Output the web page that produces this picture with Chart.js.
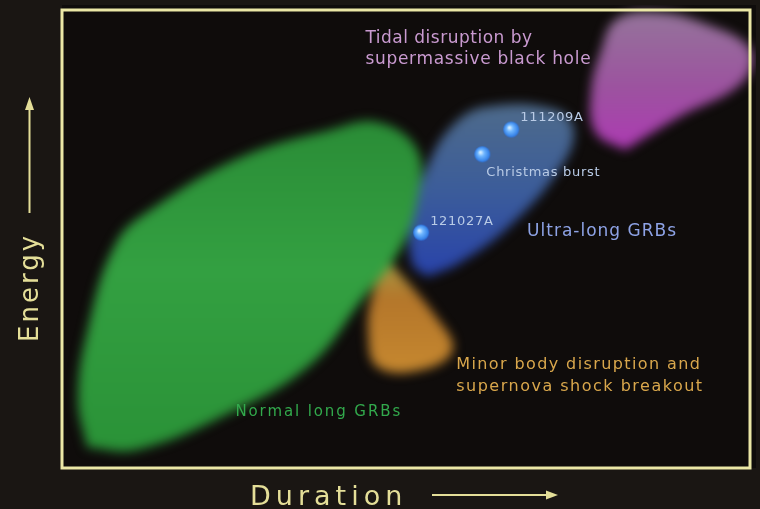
<!DOCTYPE html>
<html><head><meta charset="utf-8">
<script src="https://cdn.jsdelivr.net/npm/chart.js@4"></script>
<style>
html,body{margin:0;padding:0;background:#1a1613;}
#wrap{position:relative;width:760px;height:509px;overflow:hidden;background:#1a1613;}
#clip{position:absolute;left:62px;top:5px;width:694px;height:463px;overflow:hidden;background:#0f0c0b;}
#back{position:absolute;left:-62px;top:-5px;filter:blur(5.5px);}
#front{position:absolute;left:0;top:0;}
</style></head><body>
<div id="wrap">
  <div id="clip"><canvas id="back" width="760" height="509"></canvas></div>
  <canvas id="front" width="760" height="509"></canvas>
</div>
<script>
// ---- Region outlines (Duration, Energy in arbitrary 0-100 units) ----
const normalX = [3.6,2.3,3.6,7.8,13.4,25.9,38.6,45.5,51.2,51.2,48.7,43.2,35.7,23.5,10.7];
const normalY = [4.5,14.7,29.2,48.6,56.4,67.2,73.0,74.7,68.7,57.9,47.1,36.3,22.2,11.4,3.9];
const minorX  = [47.0,53.9,56.3,51.9,45.5,44.1,44.8];
const minorY  = [44.9,32.6,25.5,21.2,21.8,29.2,37.8];
const ultraX  = [52.6,50.4,50.4,52.6,56.1,61.0,71.3,73.8,71.3,64.4,57.3];
const ultraY  = [41.3,44.3,54.2,65.0,73.7,78.0,77.3,72.4,63.7,52.1,44.3];
const tidalX  = [81.1,76.9,76.2,77.7,79.8,85.3,92.4,99.3,98.0,88.9];
const tidalY  = [68.7,72.4,81.0,90.3,96.8,98.5,96.1,90.3,83.2,75.8];
// ---- Individual bursts ----
const burstNames = ["111209A","Christmas burst","121027A"];
const burstX = [65.3,61.1,52.2];
const burstY = [73.9,68.5,51.4];
// ---- Region labels ----
const regionLabels = ["Tidal disruption by","supermassive black hole","Ultra-long GRBs","Minor body disruption and","supernova shock breakout","Normal long GRBs"];
const regionLabelX = [44.1,44.1,67.6,57.3,57.3,25.2];
const regionLabelY = [92.9,88.3,50.7,21.6,16.8,11.4];

function closed(xs, ys){
  const pts = xs.map((x,i)=>({x:x, y:ys[i]}));
  pts.push({x:xs[0], y:ys[0]});
  return pts;
}
function gradFill(ys, stops){
  return (c)=>{
    const chart = c.chart;
    if(!chart.chartArea) return stops[0][1];
    const s = chart.scales.y;
    const t = s.getPixelForValue(Math.max(...ys));
    const b = s.getPixelForValue(Math.min(...ys));
    const g = chart.ctx.createLinearGradient(0,t,0,b);
    stops.forEach(st=>g.addColorStop(st[0],st[1]));
    return g;
  };
}
function region(xs, ys, stops){
  return {type:'line', data:closed(xs,ys), fill:'shape', tension:0.4,
    borderWidth:0, borderColor:'rgba(0,0,0,0)', pointRadius:0,
    backgroundColor:gradFill(ys, stops)};
}
const commonOpts = {
  responsive:false, animation:false, devicePixelRatio:1,
  layout:{padding:{left:62, top:5, right:4, bottom:41}},
  scales:{x:{type:'linear',min:0,max:100,display:false}, y:{type:'linear',min:0,max:100,display:false}},
  plugins:{legend:{display:false}, tooltip:{enabled:false}}
};

new Chart(document.getElementById('back'), {
  type:'scatter',
  data:{datasets:[
    region(normalX, normalY, [[0,'#2a8c36'],[0.45,'#33a041'],[1,'#2a9237']]),
    region(minorX, minorY, [[0,'#a69a45'],[0.35,'#b4762a'],[1,'#c5872f']]),
    region(ultraX, ultraY, [[0,'#4d6a8b'],[0.5,'#3b5c9a'],[1,'#2842aa']]),
    region(tidalX, tidalY, [[0,'#94749a'],[0.55,'#9c529f'],[1,'#ad3ab3']])
  ]},
  options:commonOpts
});

// Blue sphere point image
const sphere = document.createElement('canvas');
sphere.width = 18; sphere.height = 18;
(function(){
  const c = sphere.getContext('2d');
  const g = c.createRadialGradient(7,7,0.5,9,9,8.5);
  g.addColorStop(0,'#d8efff');
  g.addColorStop(0.35,'#6fb6ff');
  g.addColorStop(0.8,'#3a86ea');
  g.addColorStop(1,'rgba(40,110,220,0.6)');
  c.fillStyle = g;
  c.beginPath(); c.arc(9,9,8,0,Math.PI*2); c.fill();
})();

const overlay = {
  id:'overlay',
  beforeDatasetsDraw(chart){
    const a = chart.chartArea, ctx = chart.ctx;
    ctx.save();
    ctx.strokeStyle = '#ebe7a6';
    ctx.lineWidth = 3;
    ctx.strokeRect(a.left, a.top, a.right-a.left, a.bottom-a.top);
    ctx.restore();
  },
  afterDraw(chart){
    const ctx = chart.ctx, xs = chart.scales.x, ys = chart.scales.y, a = chart.chartArea;
    const font = '"DejaVu Sans", sans-serif';
    ctx.save();
    ctx.textBaseline = 'alphabetic';
    ctx.textAlign = 'left';
    // region labels: colour, size, letter spacing
    const labelStyle = [
      ['#c99ad0',17,0.5],['#c99ad0',17,0.7],['#8ea3e6',17,1.0],['#d9a74c',16,1.4],['#d9a74c',16,1.5],['#32a94c',15,1.9]
    ];
    regionLabels.forEach((t,i)=>{
      ctx.fillStyle = labelStyle[i][0];
      ctx.font = labelStyle[i][1] + 'px ' + font;
      ctx.letterSpacing = labelStyle[i][2] + 'px';
      ctx.fillText(t, xs.getPixelForValue(regionLabelX[i]), ys.getPixelForValue(regionLabelY[i]));
    });
    // burst labels
    ctx.fillStyle = '#b9cbe6';
    ctx.font = '13px ' + font;
    ctx.letterSpacing = '0.7px';
    const offs = [[9,-9],[4,22],[9,-8]];
    burstNames.forEach((t,i)=>{
      ctx.fillText(t, xs.getPixelForValue(burstX[i])+offs[i][0], ys.getPixelForValue(burstY[i])+offs[i][1]);
    });
    // axis titles
    const axisCol = '#e4de98';
    ctx.fillStyle = axisCol; ctx.strokeStyle = axisCol;
    ctx.font = '27px ' + font;
    ctx.letterSpacing = '5px';
    // Duration
    ctx.fillText('Duration', a.left + 188, 505);
    ctx.lineWidth = 2;
    ctx.beginPath(); ctx.moveTo(a.left+370, 495); ctx.lineTo(a.left+486, 495); ctx.stroke();
    ctx.beginPath(); ctx.moveTo(a.left+496, 495); ctx.lineTo(a.left+484, 490.5); ctx.lineTo(a.left+484, 499.5); ctx.closePath(); ctx.fill();
    // Energy
    ctx.font = '26px ' + font;
    ctx.letterSpacing = '3px';
    ctx.save();
    ctx.translate(38, 342);
    ctx.rotate(-Math.PI/2);
    ctx.fillText('Energy', 0, 0);
    ctx.restore();
    ctx.beginPath(); ctx.moveTo(29.5, 213); ctx.lineTo(29.5, 108); ctx.stroke();
    ctx.beginPath(); ctx.moveTo(29.5, 97); ctx.lineTo(25, 110); ctx.lineTo(34, 110); ctx.closePath(); ctx.fill();
    ctx.restore();
  }
};

new Chart(document.getElementById('front'), {
  type:'scatter',
  data:{datasets:[{
    data: burstX.map((x,i)=>({x:x, y:burstY[i]})),
    pointStyle: sphere, pointRadius:9
  }]},
  options:commonOpts,
  plugins:[overlay]
});
</script>
</body></html>
